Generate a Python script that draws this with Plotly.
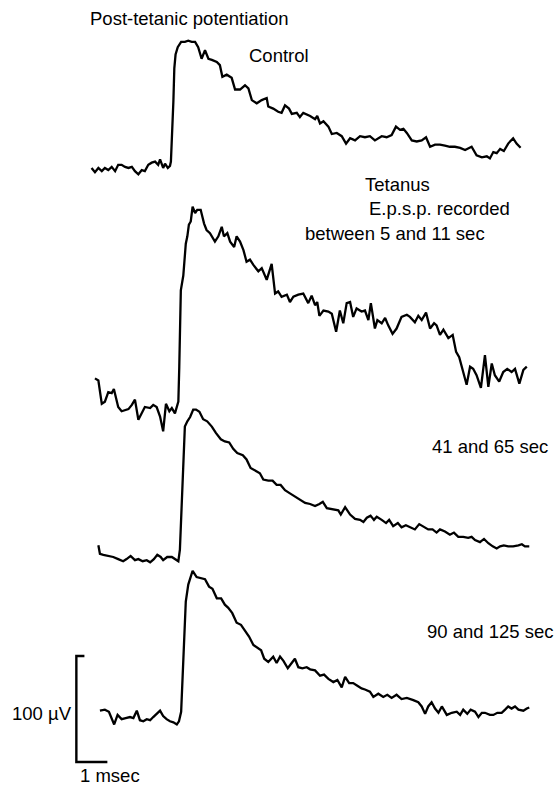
import plotly.graph_objects as go

# ---- Recorded e.p.s.p. traces -------------------------------------------
# time in msec (common origin), potential in µV relative to each trace's baseline

control_t = [0.05, 0.16, 0.27, 0.38, 0.48, 0.59, 0.70, 0.81, 0.91, 1.02, 1.13, 1.24, 1.35, 1.45,
             1.56, 1.67, 1.77, 1.88, 1.99, 2.10, 2.20, 2.26, 2.36, 2.42, 2.51, 2.58, 2.61, 2.65,
             2.69, 2.72, 2.76, 2.83, 2.94, 3.06, 3.17, 3.28, 3.39, 3.49, 3.60, 3.71, 3.82, 3.93,
             4.09, 4.19, 4.27, 4.41, 4.57, 4.68, 4.84, 5.00, 5.11, 5.22, 5.38, 5.54, 5.70, 5.75,
             5.91, 6.07, 6.18, 6.29, 6.42, 6.51, 6.67, 6.77, 6.88, 7.10, 7.26, 7.33, 7.42, 7.53,
             7.69, 7.80, 7.96, 8.12, 8.26, 8.39, 8.55, 8.71, 8.87, 9.03, 9.19, 9.41, 9.57, 9.73,
             9.87, 10.00, 10.11, 10.22, 10.38, 10.54, 10.70, 10.84, 10.97, 11.13, 11.29, 11.45,
             11.61, 11.77, 11.94, 12.10, 12.31, 12.47, 12.64, 12.80, 12.90, 13.01, 13.12, 13.23,
             13.35, 13.49, 13.65, 13.76, 13.89]
control_v = [0, -4, 0, -3, 0, -2, 1, -3, 3, 3, 1, 0, 1, -3,
             -6, -2, -3, 3, 5, 6, 3, 8, 0, 4, 0, 2, 6, 31,
             63, 94, 107, 114, 119, 119, 120, 119, 119, 114, 103, 111, 103, 102,
             100, 97, 86, 88, 85, 74, 74, 78, 75, 64, 61, 64, 66, 58,
             56, 53, 52, 59, 56, 51, 52, 48, 52, 49, 46, 49, 42, 44,
             39, 32, 33, 30, 23, 28, 26, 30, 29, 30, 26, 30, 29, 31,
             39, 36, 37, 33, 26, 25, 26, 29, 20, 22, 22, 21,
             20, 20, 19, 17, 20, 12, 10, 11, 9, 15, 14, 18,
             16, 23, 28, 23, 19]

tetanus_t = [0.16, 0.27, 0.38, 0.48, 0.59, 0.70, 0.77, 0.91, 1.02, 1.13, 1.24, 1.35, 1.45, 1.56,
             1.67, 1.77, 1.94, 2.04, 2.15, 2.26, 2.36, 2.45, 2.56, 2.64, 2.74, 2.85, 2.88, 2.93,
             3.01, 3.09, 3.14, 3.19, 3.25, 3.31, 3.39, 3.46, 3.57, 3.68, 3.76, 3.87, 4.03, 4.14,
             4.25, 4.32, 4.43, 4.52, 4.65, 4.73, 4.84, 4.95, 5.05, 5.16, 5.27, 5.43, 5.54, 5.70,
             5.86, 5.97, 6.07, 6.18, 6.35, 6.45, 6.56, 6.72, 6.88, 7.04, 7.15, 7.26, 7.33, 7.40,
             7.53, 7.69, 7.80, 7.94, 8.06, 8.17, 8.28, 8.39, 8.49, 8.60, 8.76, 8.87, 8.98, 9.06,
             9.19, 9.27, 9.41, 9.52, 9.62, 9.76, 9.89, 10.05, 10.22, 10.32, 10.48, 10.59, 10.70,
             10.84, 10.97, 11.10, 11.18, 11.29, 11.40, 11.56, 11.70, 11.81, 11.91, 12.02, 12.15,
             12.26, 12.36, 12.47, 12.61, 12.74, 12.85, 12.96, 13.06, 13.20, 13.33, 13.46, 13.60,
             13.71, 13.85, 13.98, 14.09]
tetanus_v = [28, 26, 4, 6, 15, 14, 18, 1, -3, -2, -1, 3, 8, -11,
             -5, 1, 0, 3, 1, -8, -22, 4, -3, 0, -5, 6, 39, 111,
             125, 155, 162, 173, 176, 190, 184, 187, 187, 174, 168, 165, 157, 162,
             171, 162, 165, 157, 152, 162, 157, 149, 138, 140, 135, 129, 132, 121,
             136, 108, 110, 105, 107, 100, 105, 107, 108, 99, 106, 97, 100, 87,
             92, 91, 89, 72, 92, 80, 99, 100, 86, 94, 91, 92, 83, 99,
             75, 83, 80, 85, 78, 70, 75, 86, 88, 86, 81, 87, 83,
             90, 75, 80, 78, 69, 74, 66, 69, 53, 48, 36, 22,
             39, 37, 31, 19, 50, 20, 42, 31, 25, 34, 37, 34,
             37, 23, 36, 39]

late1_t = [0.27, 0.32, 0.43, 0.59, 0.75, 0.91, 1.07, 1.18, 1.31, 1.45, 1.56, 1.70, 1.83, 1.94,
           2.06, 2.17, 2.28, 2.36, 2.49, 2.64, 2.77, 2.85, 2.90, 2.96, 3.01, 3.06, 3.14, 3.23,
           3.33, 3.42, 3.53, 3.65, 3.78, 3.93, 4.06, 4.22, 4.35, 4.49, 4.62, 4.75, 4.93, 5.05,
           5.18, 5.32, 5.48, 5.59, 5.75, 5.89, 6.02, 6.15, 6.29, 6.45, 6.61, 6.77, 6.94, 7.10,
           7.26, 7.40, 7.51, 7.64, 7.85, 8.01, 8.09, 8.23, 8.39, 8.55, 8.71, 8.82, 8.93, 9.05,
           9.16, 9.25, 9.41, 9.55, 9.65, 9.78, 9.93, 10.05, 10.19, 10.32, 10.48, 10.62, 10.77,
           10.91, 11.05, 11.18, 11.29, 11.45, 11.61, 11.74, 11.88, 12.04, 12.20, 12.31, 12.42,
           12.58, 12.71, 12.85, 12.99, 13.12, 13.23, 13.35, 13.49, 13.65, 13.82, 13.93, 14.03,
           14.17]
late1_v = [12, 4, 3, 2, 1, -1, -3, -1, 2, -2, -1, -3, -2, -4,
           -1, 3, 1, -2, 1, 1, -2, -3, 8, 55, 92, 124, 129, 133,
           140, 140, 138, 131, 129, 124, 118, 112, 110, 109, 103, 99, 97, 93,
           85, 83, 80, 74, 73, 73, 69, 69, 64, 61, 58, 55, 52, 51,
           49, 51, 53, 47, 46, 45, 41, 48, 41, 37, 36, 34, 38, 40,
           36, 39, 36, 33, 36, 30, 33, 29, 31, 29, 27, 32, 29,
           27, 27, 24, 27, 25, 22, 24, 20, 20, 19, 20, 17,
           15, 18, 14, 11, 9, 11, 12, 11, 11, 12, 13, 11,
           11]

late2_t = [0.32, 0.48, 0.61, 0.70, 0.78, 0.89, 1.02, 1.15, 1.29, 1.40, 1.51, 1.61, 1.72, 1.83,
           1.94, 2.04, 2.15, 2.26, 2.36, 2.47, 2.58, 2.69, 2.80, 2.87, 2.94, 2.98, 3.02, 3.09,
           3.17, 3.26, 3.31, 3.44, 3.58, 3.71, 3.84, 3.95, 4.09, 4.23, 4.35, 4.46, 4.59, 4.73,
           4.87, 5.00, 5.13, 5.27, 5.41, 5.52, 5.62, 5.75, 5.91, 6.02, 6.13, 6.24, 6.38, 6.51,
           6.61, 6.72, 6.85, 6.99, 7.10, 7.26, 7.42, 7.55, 7.69, 7.85, 7.98, 8.12, 8.23, 8.36,
           8.49, 8.65, 8.76, 8.87, 9.03, 9.14, 9.30, 9.46, 9.59, 9.73, 9.89, 10.05, 10.22,
           10.43, 10.59, 10.70, 10.81, 10.91, 11.02, 11.13, 11.24, 11.35, 11.51, 11.67, 11.83,
           11.94, 12.04, 12.17, 12.28, 12.42, 12.53, 12.64, 12.74, 12.90, 13.01, 13.14, 13.28,
           13.39, 13.49, 13.60, 13.71, 13.82, 13.98, 14.09, 14.17]
late2_v = [5, 6, 4, -2, -8, 1, -3, -2, -1, -2, 5, -4, -5, -3,
           -4, -1, 2, 5, 0, -3, -5, -6, -8, -5, 4, 32, 73, 108,
           124, 133, 137, 131, 130, 129, 122, 120, 111, 111, 105, 102, 97, 88,
           86, 81, 75, 67, 64, 62, 54, 51, 56, 50, 56, 52, 45, 50,
           54, 46, 45, 46, 44, 43, 38, 39, 35, 32, 34, 27, 37, 31,
           31, 28, 26, 25, 23, 18, 21, 18, 20, 17, 20, 16, 17,
           15, 13, 9, 2, 9, 13, 7, 3, 9, 1, 3, 4,
           1, 6, 2, 6, 4, -1, 3, 3, 1, 1, 3, 3,
           6, 9, 7, 9, 6, 5, 7, 8]

# vertical position of each trace's baseline on the page (µV)
baseline_uv = {"control": 584, "tetanus": 357.5, "late1": 216, "late2": 67}

# calibration bar
CAL_UV = 100      # vertical bar
CAL_MS = 1        # horizontal bar
cal_x, cal_y = -0.44, 23.6

# ---- page geometry --------------------------------------------------------
W, H = 556, 787
PX_PER_MS = 31.0
PX_PER_UV = 1.06
X0_PX = 90.0          # page x of time origin
x_range = [-X0_PX / PX_PER_MS, (W - X0_PX) / PX_PER_MS]
y_range = [0, H / PX_PER_UV]

fig = go.Figure()

traces = [
    (control_t, control_v, baseline_uv["control"]),
    (tetanus_t, tetanus_v, baseline_uv["tetanus"]),
    (late1_t, late1_v, baseline_uv["late1"]),
    (late2_t, late2_v, baseline_uv["late2"]),
]
for t, v, base in traces:
    fig.add_trace(go.Scatter(
        x=t, y=[base + val for val in v], mode="lines",
        line=dict(color="black", width=2.3), hoverinfo="skip", showlegend=False))

# calibration bracket: small top tick, vertical 100 µV, horizontal 1 msec
tick = 0.26
fig.add_trace(go.Scatter(
    x=[cal_x + tick, cal_x, cal_x, cal_x + CAL_MS],
    y=[cal_y + CAL_UV, cal_y + CAL_UV, cal_y, cal_y],
    mode="lines", line=dict(color="black", width=2.4),
    hoverinfo="skip", showlegend=False))


def at(px, py):
    return px / W, 1 - py / H


FONT = dict(family="Liberation Sans, Arial, Helvetica, sans-serif", size=18.5, color="black")
labels = [
    ("Post-tetanic potentiation", 88, 18),
    ("Control", 247, 55),
    ("Tetanus", 363, 184),
    ("E.p.s.p. recorded", 367, 209),
    ("between 5 and 11 sec", 303, 233),
    ("41 and 65 sec", 430, 446),
    ("90 and 125 sec", 425, 631),
    ("100 \u00b5V", 10, 713),
    ("1 msec", 78, 775),
]
for text, px, py in labels:
    x, y = at(px, py)
    fig.add_annotation(x=x, y=y, xref="paper", yref="paper", text=text,
                       showarrow=False, xanchor="left", yanchor="middle",
                       font=FONT)

fig.update_layout(
    width=W, height=H, autosize=False,
    margin=dict(l=0, r=0, t=0, b=0),
    paper_bgcolor="white", plot_bgcolor="white",
    xaxis=dict(range=x_range, visible=False, fixedrange=True),
    yaxis=dict(range=y_range, visible=False, fixedrange=True),
)

fig.write_html("out.html")
